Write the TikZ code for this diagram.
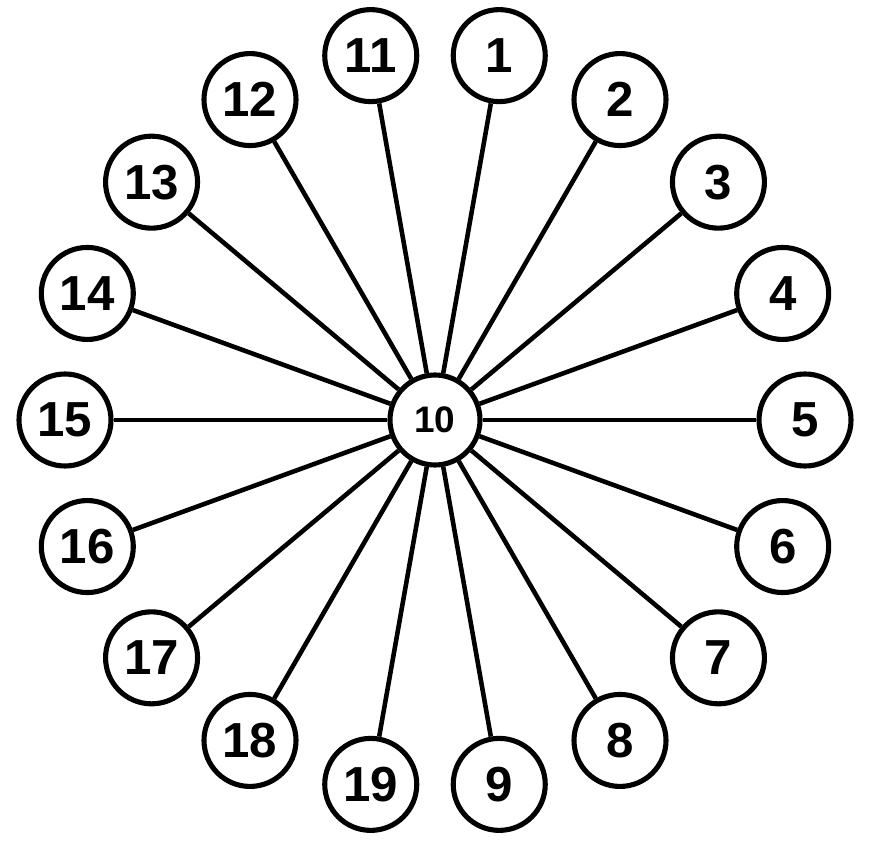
\documentclass[tikz,border=0pt]{standalone}
\usepackage{fontspec}
\setmainfont{Liberation Sans}
\usepackage{xcolor}

\begin{document}
\begin{tikzpicture}[line width=2.6pt,
  spot/.style={draw,circle,fill=white,minimum size=1.84cm,inner sep=0pt,line width=2.9pt,font=\fontsize{28}{28}\selectfont\bfseries},
  hub/.style={draw,circle,fill=white,minimum size=1.8cm,inner sep=0pt,line width=2.9pt,font=\fontsize{21}{21}\selectfont\bfseries}]
			\useasboundingbox (-8.7,-8.72) rectangle (8.86,8.4);
			\node[hub] (c) at (0,0) {10};
			\foreach \ang/\lab in {80/1,60/2,40/3,20/4,0/5,-20/6,-40/7,-60/8,-80/9,100/11,120/12,140/13,160/14,180/15,200/16,220/17,240/18,260/19}{
				\node[spot] (n\lab) at (\ang:7.4) {\lab};
				\draw[] (c)--(n\lab);
			}
		\end{tikzpicture}
\end{document}
